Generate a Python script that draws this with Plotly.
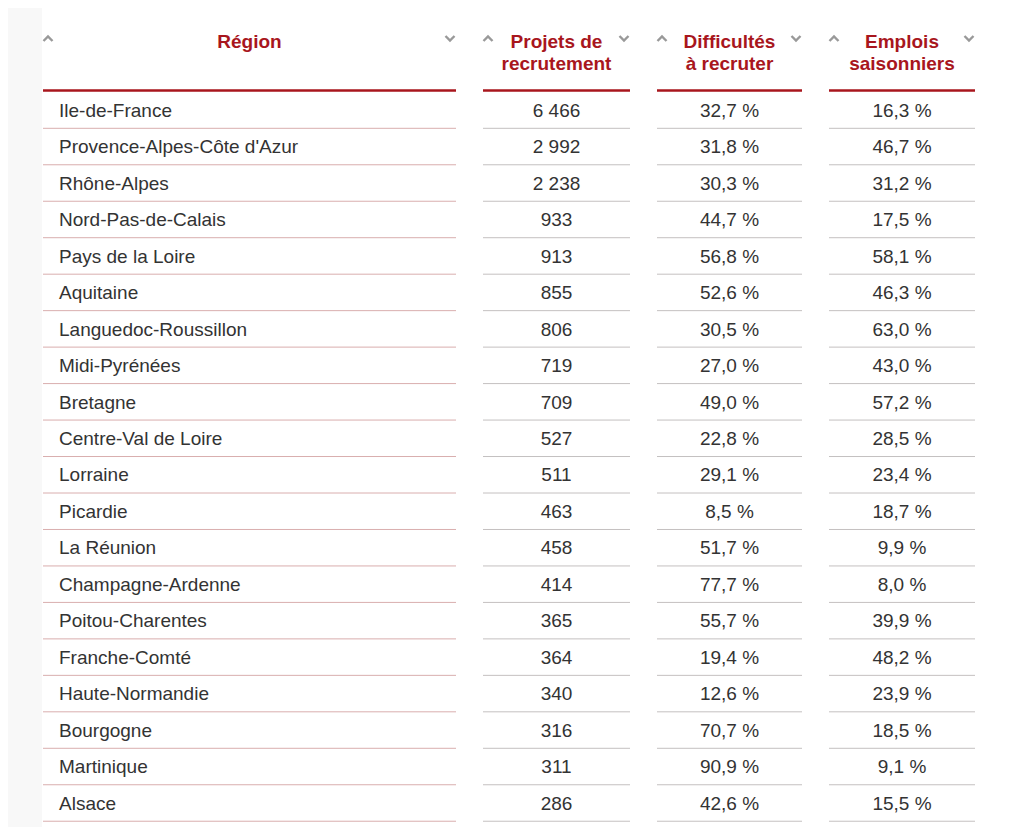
import plotly.graph_objects as go

regions = ["Ile-de-France", "Provence-Alpes-Côte d'Azur", "Rhône-Alpes", "Nord-Pas-de-Calais",
           "Pays de la Loire", "Aquitaine", "Languedoc-Roussillon", "Midi-Pyrénées", "Bretagne",
           "Centre-Val de Loire", "Lorraine", "Picardie", "La Réunion", "Champagne-Ardenne",
           "Poitou-Charentes", "Franche-Comté", "Haute-Normandie", "Bourgogne", "Martinique", "Alsace"]
projets = [6466, 2992, 2238, 933, 913, 855, 806, 719, 709, 527, 511, 463, 458, 414, 365, 364, 340, 316, 311, 286]
difficultes = [32.7, 31.8, 30.3, 44.7, 56.8, 52.6, 30.5, 27.0, 49.0, 22.8, 29.1, 8.5, 51.7, 77.7, 55.7, 19.4, 12.6, 70.7, 90.9, 42.6]
saisonniers = [16.3, 46.7, 31.2, 17.5, 58.1, 46.3, 63.0, 43.0, 57.2, 28.5, 23.4, 18.7, 9.9, 8.0, 39.9, 48.2, 23.9, 18.5, 9.1, 15.5]
headers = [["Région"], ["Projets de", "recrutement"], ["Difficultés", "à recruter"], ["Emplois", "saisonniers"]]


def fmt_int(v):
    return f"{v:,}".replace(",", " ")


def fmt_pct(v):
    return f"{v:.1f}".replace(".", ",") + " %"


W, H = 1027, 827
OFF = 8  # page body margin
FONT = "Liberation Sans, Arial, sans-serif"
RED = "#a8161d"
TXT = "#333333"
FS = 19
TY = 2  # glyph centering correction

# column geometry (left, right)
cols = [(43, 456), (483, 630), (657, 802), (829, 975)]
row0, pitch = 110, 36.47
ys = [row0 + i * pitch for i in range(len(regions))]
ty = [y + TY for y in ys]

fig = go.Figure()

# region text
fig.add_trace(go.Scatter(x=[59] * len(regions), y=ty, mode="text", text=regions,
                         textposition="middle right", textfont=dict(family=FONT, size=FS, color=TXT),
                         hoverinfo="skip", showlegend=False))
for ci, vals in [(1, [fmt_int(v) for v in projets]), (2, [fmt_pct(v) for v in difficultes]),
                 (3, [fmt_pct(v) for v in saisonniers])]:
    cx = (cols[ci][0] + cols[ci][1]) / 2
    fig.add_trace(go.Scatter(x=[cx] * len(vals), y=ty, mode="text", text=vals,
                             textposition="middle center", textfont=dict(family=FONT, size=FS, color=TXT),
                             hoverinfo="skip", showlegend=False))

shapes = []
# background decoration
shapes.append(dict(type="rect", xref="x", yref="y", x0=0, x1=42, y0=0, y1=H, line_width=0,
                   fillcolor="#f8f8f8", layer="below"))
shapes.append(dict(type="line", xref="x", yref="y", x0=1020.5, x1=1020.5, y0=0, y1=H,
                   line=dict(color="#ececec", width=1)))

# headers
for ci, (l, r) in enumerate(cols):
    cx = (l + r) / 2
    lines = headers[ci]
    fig.add_trace(go.Scatter(x=[cx] * len(lines), y=[41 + TY + 22 * k for k in range(len(lines))],
                             mode="text", text=[f"<b>{t}</b>" for t in lines],
                             textposition="middle center",
                             textfont=dict(family=FONT, size=FS, color=RED),
                             hoverinfo="skip", showlegend=False))
    # chevrons
    ux, dx = l + 5, r - 6
    fig.add_trace(go.Scatter(x=[ux - 4.5, ux, ux + 4.5], y=[41, 36.5, 41], mode="lines",
                             line=dict(color="#999999", width=2.4), hoverinfo="skip", showlegend=False))
    fig.add_trace(go.Scatter(x=[dx - 4.5, dx, dx + 4.5], y=[36, 40.5, 36], mode="lines",
                             line=dict(color="#999999", width=2.4), hoverinfo="skip", showlegend=False))
    shapes.append(dict(type="line", xref="x", yref="y", x0=l, x1=r, y0=90.5, y1=90.5,
                       line=dict(color=RED, width=2.5)))
    for y in ys:
        shapes.append(dict(type="line", xref="x", yref="y", x0=l, x1=r, y0=y + 18.3, y1=y + 18.3,
                           line=dict(color="#d9aeae" if ci == 0 else "#c4c0c0", width=1)))

fig.update_layout(
    width=W - OFF, height=H - OFF, margin=dict(l=0, r=0, t=0, b=0),
    paper_bgcolor="white", plot_bgcolor="white",
    xaxis=dict(range=[OFF, W], visible=False, fixedrange=True),
    yaxis=dict(range=[H, OFF], visible=False, fixedrange=True),
    shapes=shapes,
)
fig.write_html("out.html")
